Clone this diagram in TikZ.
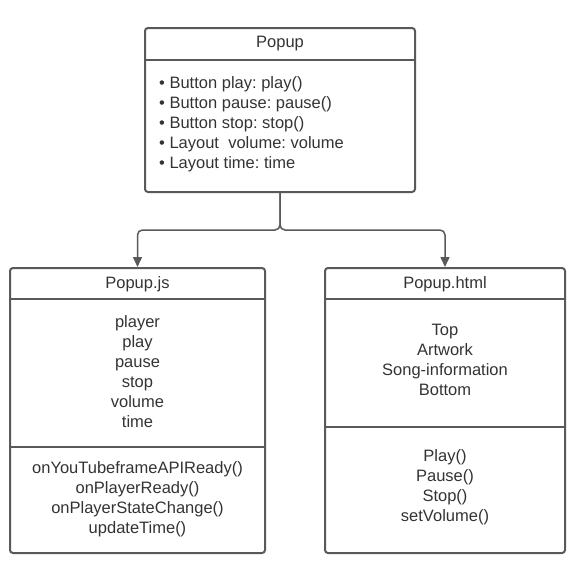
\documentclass[tikz,border=0pt]{standalone}
\usepackage{fontspec}
\setmainfont{Liberation Sans}
\usetikzlibrary{arrows.meta, positioning}
\definecolor{umlline}{HTML}{595959}
\definecolor{umltext}{HTML}{333333}
\frenchspacing
\tikzset{
    umlbox/.style={draw=umlline, line width=2pt, rounded corners=3pt, inner sep=0pt},
    umltext/.style={text=umltext, inner sep=0pt, align=center, font=\fontsize{16.5}{20}\selectfont},
    divider/.style={draw=umlline, line width=2pt},
}
\begin{document}
\begin{tikzpicture}[x=1pt, y=-1pt, >={Triangle[width=9pt, length=10pt]}]
    \useasboundingbox (0,0) rectangle (575,587);
    % Popup
    \node[umlbox, minimum width=270pt, minimum height=164pt] (popup) at (280,110) {};
    \node[umltext] (popuptitle) at (280,44) {Popup};
    \draw[divider] (popup.west |- 0,60) -- (popup.east |- 0,60);
    \node[umltext, align=left, anchor=west] (popupattr) at (159,124) {
        • Button play: play()\\
        • Button pause: pause()\\
        • Button stop: stop()\\
        • Layout\ \ volume: volume\\
        • Layout time: time
    };

    % Popup.js
    \node[umlbox, minimum width=255pt, minimum height=285pt] (js) at (137.5,410.5) {};
    \node[umltext] (jstitle) at (137.5,284) {Popup.js};
    \draw[divider] (js.west |- 0,299) -- (js.east |- 0,299);
    \node[umltext] (jsattr) at (137.5,372) {player\\play\\pause\\stop\\volume\\time};
    \draw[divider] (js.west |- 0,447) -- (js.east |- 0,447);
    \node[umltext] (jsmeth) at (137.5,499) {onYouTubeframeAPIReady()\\onPlayerReady()\\onPlayerStateChange()\\updateTime()};

    % Popup.html
    \node[umlbox, minimum width=240pt, minimum height=285pt] (html) at (445,410.5) {};
    \node[umltext] (htmltitle) at (445,284) {Popup.html};
    \draw[divider] (html.west |- 0,299) -- (html.east |- 0,299);
    \node[umltext] (htmlattr) at (445,360) {Top\\Artwork\\Song-information\\Bottom};
    \draw[divider] (html.west |- 0,427) -- (html.east |- 0,427);
    \node[umltext] (htmlmeth) at (445,487) {Play()\\Pause()\\Stop()\\setVolume()};

    % connectors
    \coordinate (split) at (280,230);
    \draw[->, umlline, line width=1.5pt, rounded corners=5pt] (popup.south) -- (split) -| (js.north);
    \draw[->, umlline, line width=1.5pt, rounded corners=5pt] (popup.south) -- (split) -| (html.north);
\end{tikzpicture}
\end{document}
